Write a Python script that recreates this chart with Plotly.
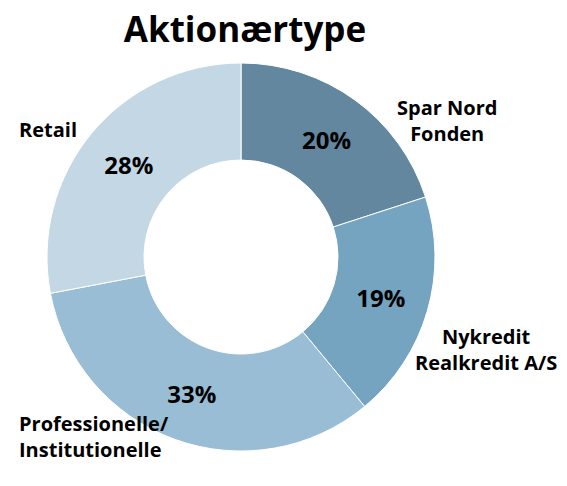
import plotly.graph_objects as go

categories = ["Spar Nord Fonden", "Nykredit Realkredit A/S", "Professionelle/Institutionelle", "Retail"]
values = [20, 19, 33, 28]
label_texts = ["Spar Nord<br>Fonden", "Nykredit<br>Realkredit A/S", "Professionelle/<br>Institutionelle", "Retail"]
colors = ["#62879f", "#74a4bf", "#99bdd4", "#c4d7e5"]

FONT = "'Open Sans', sans-serif"

fig = go.Figure(go.Pie(
    labels=categories,
    values=values,
    hole=0.5,
    sort=False,
    direction="clockwise",
    rotation=0,
    marker=dict(colors=colors, line=dict(color="white", width=1)),
    textinfo="percent",
    texttemplate="<b>%{percent:.0%}</b>",
    textposition="inside",
    insidetextorientation="horizontal",
    textfont=dict(family=FONT, size=24, color="black"),
    showlegend=False,
))

label_pos = [
    dict(x=1.031, y=0.851, xanchor="center", align="center"),
    dict(x=1.131, y=0.262, xanchor="center", align="center"),
    dict(x=-0.078, y=0.041, xanchor="left", align="left"),
    dict(x=0.003, y=0.826, xanchor="center", align="center"),
]
annotations = []
for txt, p in zip(label_texts, label_pos):
    annotations.append(dict(
        text="<b>" + txt + "</b>", xref="paper", yref="paper",
        x=p["x"], y=p["y"], xanchor=p["xanchor"], yanchor="middle",
        align=p["align"], showarrow=False,
        font=dict(family=FONT, size=20, color="black"),
    ))

fig.update_layout(
    width=567, height=486,
    margin=dict(l=39, r=140, t=54, b=42),
    paper_bgcolor="white", plot_bgcolor="white",
    title=dict(text="<b>Aktionærtype</b>", xref="container", yref="container",
               x=0.418, y=0.955, xanchor="center", yanchor="middle",
               font=dict(family=FONT, size=35, color="black")),
    annotations=annotations,
)

fig.write_html("out.html")
